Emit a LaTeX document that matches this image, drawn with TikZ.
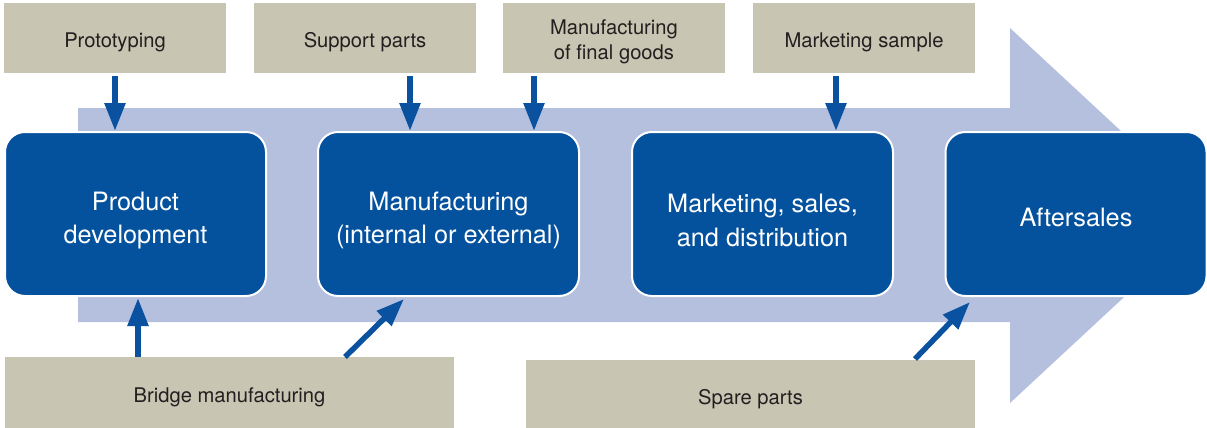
\documentclass[tikz,border=0pt]{standalone}
\usepackage{fontspec}
\setmainfont{TeX Gyre Heros}
\usetikzlibrary{arrows.meta}
\definecolor{tan}{RGB}{200,197,178}
\definecolor{band}{RGB}{181,191,222}
\definecolor{dblue}{RGB}{4,82,158}
\definecolor{ablue}{RGB}{10,82,160}
\definecolor{tgray}{RGB}{35,31,32}
\begin{document}
\begin{tikzpicture}[x=1pt,y=-1pt,
  tanbox/.style={fill=tan,draw=none,inner sep=0pt,minimum width=222pt,minimum height=70pt,
    text=tgray,align=center,font=\fontsize{20.2}{24.5}\selectfont,
    execute at begin node={\rule{0pt}{24pt}}},
  tantext/.style={inner sep=0pt,text=tgray,align=center,font=\fontsize{20.2}{24.5}\selectfont},
  lowbox/.style={tanbox,minimum width=449pt,execute at begin node={\rule{0pt}{20.5pt}}},
  bluebox/.style={fill=dblue,draw=white,line width=2pt,rounded corners=20pt,inner sep=0pt,
    minimum width=261pt,minimum height=164pt,text=white,align=center,
    font=\fontsize{25.3}{33.5}\selectfont,execute at begin node={\rule{0pt}{25pt}}},
  bluetext/.style={inner sep=0pt,text=white,align=center,font=\fontsize{25.3}{33.5}\selectfont},
  arr/.style={draw=ablue,line width=5.5pt,-{Triangle[length=28pt,width=20pt]}}]
\useasboundingbox (0,0) rectangle (1207,428);
\clip (0,0) rectangle (1207,428);
% big band arrow
\fill[band] (78,108) -- (1010,108) -- (1010,28) -- (1212,215.5) -- (1010,403) -- (1010,322) -- (78,322) -- cycle;
% top boxes
\node[tanbox] (t1) at (115,38) {Prototyping};
\node[tanbox] (t2) at (365,38) {Support parts};
\node[tanbox] (t3) at (614,38) {};
\node[tantext] (t3t) at ([yshift=-4pt]t3.center) {Manufacturing\\of final goods};
\node[tanbox] (t4) at (864,38) {Marketing sample};
% bottom boxes
\node[lowbox,minimum height=72pt] (bm) at (229.5,393) {Bridge manufacturing};
\node[lowbox,minimum height=70pt] (sp) at (750.5,395) {Spare parts};
% blue boxes
\node[bluebox] (b1) at (135.5,214) {};
\node[bluetext] (b1t) at ([yshift=-6.5pt]b1.center) {Product\\development};
\node[bluebox] (b2) at (448.5,214) {};
\node[bluetext] (b2t) at ([yshift=-6.5pt]b2.center) {Manufacturing\\(internal or external)};
\node[bluebox] (b3) at (762.5,214) {};
\node[bluetext] (b3t) at ([yshift=-6.5pt]b3.center) {Marketing, sales,\\and distribution};
\node[bluebox] (b4) at (1076,214) {Aftersales};
% top arrows
\draw[arr,shorten <=3pt] (t1.south) -- (t1.south |- b1.north);
\draw[arr,shorten <=3pt] ([xshift=45pt]t2.south) -- ([xshift=45pt]t2.south |- b2.north);
\draw[arr,shorten <=3pt] ([xshift=-80pt]t3.south) -- ([xshift=-80pt]t3.south |- b2.north);
\draw[arr,shorten <=3pt] ([xshift=-28pt]t4.south) -- ([xshift=-28pt]t4.south |- b3.north);
% bottom arrows
\coordinate (d1) at (345,357);
\coordinate (d1e) at (404,299);
\coordinate (s1) at (915,359);
\coordinate (s1e) at (970,302);
\draw[arr] ([xshift=2.5pt]b1.south |- bm.north) -- ([xshift=2.5pt,yshift=-1pt]b1.south);
\draw[arr] (d1) -- (d1e);
\draw[arr] (s1) -- (s1e);
\end{tikzpicture}
\end{document}
